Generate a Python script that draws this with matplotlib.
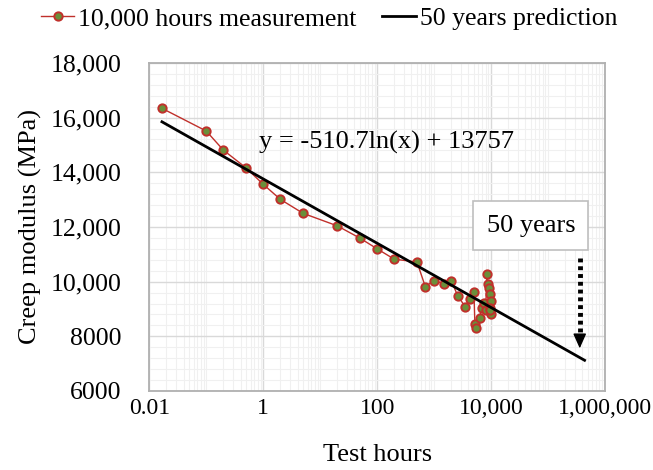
import numpy as np
import matplotlib
matplotlib.use("Agg")
import matplotlib.pyplot as plt
from matplotlib.ticker import FixedLocator, FuncFormatter, LogLocator, MultipleLocator

# measured creep modulus (test hours, MPa)
hours = [0.0167, 0.1, 0.2, 0.5, 1, 2, 5, 20, 50, 100, 200, 500, 700, 1000,
         1500, 2000, 2600, 3500, 4200, 5000, 5200, 5400, 6300, 6800, 7600,
         8000, 8500, 8700, 9200, 9500, 9900, 9700, 10000, 9600]
modulus = [16340, 15510, 14810, 14160, 13560, 13010, 12500, 12040, 11590,
           11200, 10820, 10720, 9820, 10040, 9920, 10040, 9480, 9090, 9370,
           9630, 8440, 8320, 8680, 9020, 9210, 8960, 10270, 9920, 9760, 9540,
           9290, 9030, 8810, 8950]

# log fit  y = -510.7 ln(x) + 13757
fit_a = -510.7
fit_b = 13757
fit_start = 0.0167
fit_end = 438000  # 50 years in hours

x_ticks = [0.01, 1, 100, 10000, 1000000]
x_labels = ["0.01", "1", "100", "10,000", "1,000,000"]
y_ticks = [6000, 8000, 10000, 12000, 14000, 16000, 18000]
y_labels = ["6000", "8000", "10,000", "12,000", "14,000", "16,000", "18,000"]

plt.rcParams["font.family"] = ["Liberation Serif", "DejaVu Serif"]

fig = plt.figure(figsize=(6.53, 4.70), dpi=100)
ax = fig.add_axes([0.2286, 0.1681, 0.6979, 0.698])

xf = np.logspace(np.log10(fit_start), np.log10(fit_end), 200)
yf = fit_a * np.log(xf) + fit_b

ax.plot(hours, modulus, color="#c0302b", lw=1.0, marker="o", ms=6,
        mfc="#6a8f3a", mec="#c0302b", mew=1.4, zorder=3,
        label="10,000 hours measurement")
ax.plot(xf, yf, color="black", lw=2.0, zorder=4, label="50 years prediction")

ax.set_xscale("log")
ax.set_xlim(0.01, 1e6)
ax.set_ylim(6000, 18000)
ax.xaxis.set_major_locator(FixedLocator(x_ticks))
ax.xaxis.set_major_formatter(FuncFormatter(lambda v, p: x_labels[x_ticks.index(v)] if v in x_ticks else ""))
ax.xaxis.set_minor_locator(LogLocator(base=10, subs=np.arange(1, 10), numticks=50))
ax.xaxis.set_minor_formatter(FuncFormatter(lambda v, p: ""))
ax.set_yticks(y_ticks)
ax.set_yticklabels(y_labels)
ax.yaxis.set_minor_locator(MultipleLocator(400))

ax.grid(which="major", color="#d9d9d9", lw=1.0)
ax.grid(which="minor", color="#f0f0f0", lw=0.8)
ax.set_axisbelow(True)
ax.tick_params(which="both", length=0)
ax.tick_params(axis="x", pad=5, labelsize=17)
ax.tick_params(axis="y", pad=20, labelsize=18.5)
for s in ax.spines.values():
    s.set_color("#b0b0b0")
    s.set_linewidth(1.3)

ax.set_xlabel("Test hours", fontsize=19, labelpad=18)
ax.set_ylabel("Creep modulus (MPa)", fontsize=19, labelpad=6)

ax.text(0.85, 15100, "y = -510.7ln(x) + 13757", fontsize=19, va="center")

# 50 years annotation
ax.text(5.0e4, 12050, "50 years", fontsize=19, ha="center", va="center",
        bbox=dict(boxstyle="square,pad=0.5", fc="white", ec="#bfbfbf", lw=1.2), zorder=5)
ax.plot([3.6e5, 3.6e5], [10860, 7950], color="black", lw=3.5,
        linestyle=(0, (0.8, 0.8)), solid_capstyle="butt", zorder=5)
ax.annotate("", xy=(3.6e5, 7560), xytext=(3.6e5, 8000),
            arrowprops=dict(arrowstyle="-|>,head_width=0.4,head_length=0.9",
                            color="black", lw=1, shrinkA=0, shrinkB=0), zorder=5)

fig.legend(loc="center", bbox_to_anchor=(329 / 653, 1 - 19 / 470), ncol=2,
           frameon=False, fontsize=18.5, handlelength=1.3, handletextpad=0.15,
           columnspacing=1.0, borderpad=0)

fig.savefig("out.png", dpi=100)
